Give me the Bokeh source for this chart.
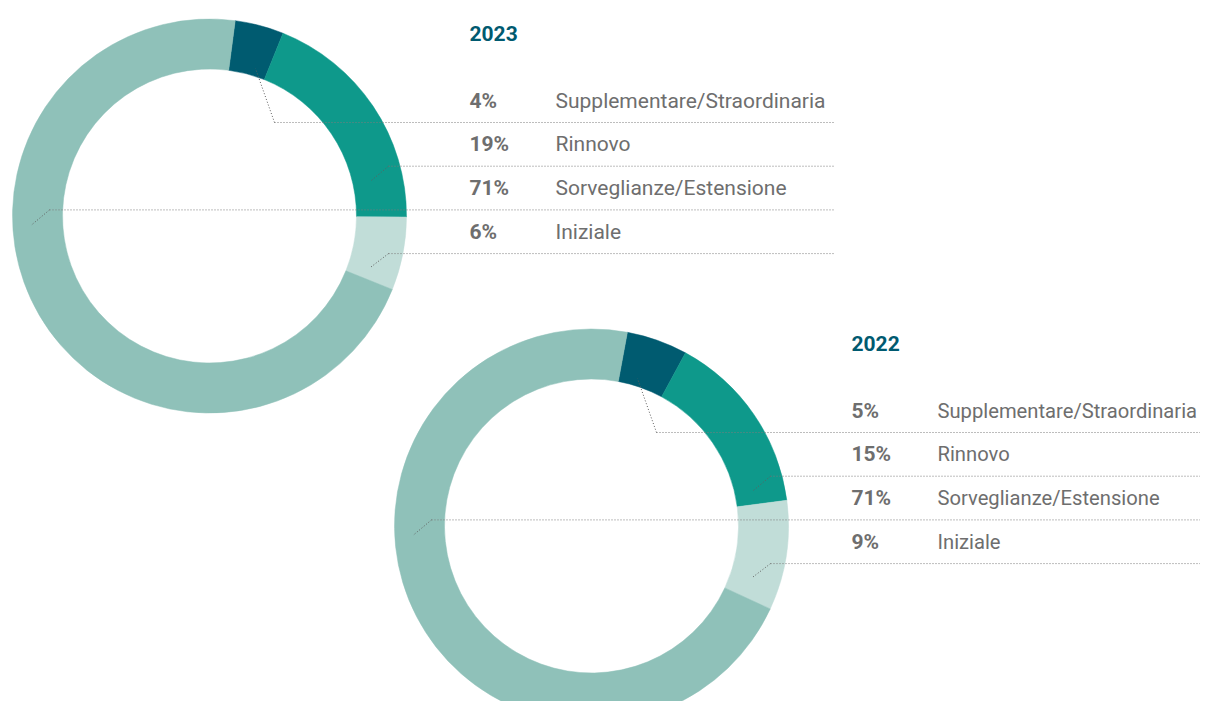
import numpy as np
from bokeh.plotting import figure
from bokeh.models import Range1d
from bokeh.embed import file_html
from bokeh.resources import INLINE
from bokeh.core.properties import value

# ---------------- data ----------------
years = ["2023", "2022"]
categories = ["Supplementare/Straordinaria", "Rinnovo", "Sorveglianze/Estensione", "Iniziale"]
values_2023 = [4, 19, 71, 6]
values_2022 = [5, 15, 71, 9]
series = [values_2023, values_2022]

# ---------------- style / layout ----------------
colors = ["#005b70", "#0e998b", "#8fc1b9", "#c1ddd8"]
ring_order = [0, 1, 3, 2]           # clockwise drawing order of categories
centers = [(209, 215.5), (591, 525.5)]
start_deg = [7.5, 10.5]             # clockwise from 12 o'clock
R_OUT, R_IN = 197, 147
line_end = [833, 1216]
row0_dy, row_gap = -93.5, 43.7
elbow_dx = [65, 179, -160, 179]
tip_d = [(-19, -54), (-18, 15), (-18.5, 15.5), (-19, 14.5)]
label_size = ["21px", "20.2px"]
TITLE_COL = "#005a70"
TEXT_COL = "#6e6e6e"
FONT = "Roboto"

W, H = 1200, 701
p = figure(width=W, height=H, output_backend="svg", toolbar_location=None,
           x_range=Range1d(0, W), y_range=Range1d(-H, 0),
           min_border=0, outline_line_color=None)
p.axis.visible = False
p.grid.visible = False
p.background_fill_color = "white"
p.border_fill_color = "white"

for k, vals in enumerate(series):
    cx, cy = centers[k]
    total = float(sum(vals))
    theta = start_deg[k]
    xs, ys, sa, ea, cols = [], [], [], [], []
    for ci in ring_order:
        span = vals[ci] / total * 360.0
        a0 = np.deg2rad(90 - theta)
        a1 = np.deg2rad(90 - theta - span)
        xs.append(cx); ys.append(-cy); sa.append(a0); ea.append(a1); cols.append(colors[ci])
        theta += span
    p.annular_wedge(x=xs, y=ys, inner_radius=R_IN, outer_radius=R_OUT,
                    start_angle=sa, end_angle=ea, direction="clock",
                    fill_color=cols, line_color=cols, line_width=0.5)

    # title
    p.text(x=[cx + 260], y=[-(cy - 183)], text=[years[k]], text_font=value(FONT),
           text_font_size="21px", text_font_style="bold", text_color=TITLE_COL,
           text_baseline="middle", text_align="left")

    for i, cat in enumerate(categories):
        ly = cy + row0_dy + i * row_gap
        ex = cx + elbow_dx[i]
        tx, ty = ex + tip_d[i][0], ly + tip_d[i][1]
        # horizontal dotted rule
        p.line(x=[ex, line_end[k]], y=[-ly, -ly], line_color="#7a7a7a",
               line_width=1, line_dash="1 2")
        # leader into the ring
        p.line(x=[ex, tx], y=[-ly, -ty], line_color="#5e5e5e",
               line_width=1, line_dash="1 2")
        # labels
        p.text(x=[cx + 260], y=[-(ly - 22)], text=[f"{vals[i]}%"], text_font=value(FONT),
               text_font_size="21px", text_font_style="bold", text_color=TEXT_COL,
               text_baseline="middle", text_align="left")
        p.text(x=[cx + 346], y=[-(ly - 22)], text=[cat], text_font=value(FONT),
               text_font_size=label_size[k], text_color=TEXT_COL,
               text_baseline="middle", text_align="left")

open("out.html", "w").write(file_html(p, INLINE))
